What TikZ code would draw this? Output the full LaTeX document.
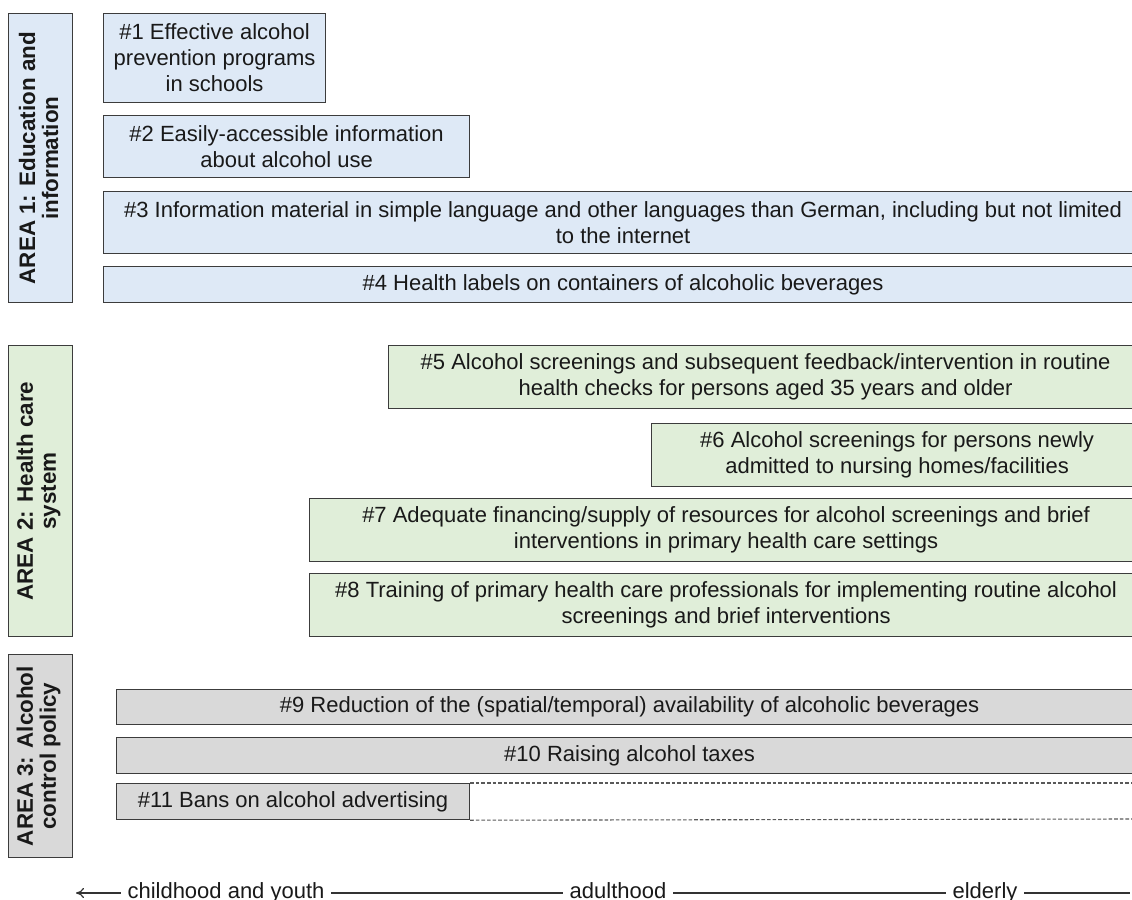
\documentclass[tikz,border=0pt]{standalone}
\usepackage{fontspec}
\setmainfont{Liberation Sans}
\usetikzlibrary{arrows.meta}
\definecolor{edu}{RGB}{222,233,246}
\definecolor{care}{RGB}{224,238,217}
\definecolor{policy}{RGB}{217,217,217}
\definecolor{rim}{RGB}{60,60,60}
\definecolor{ink}{RGB}{25,25,25}
\tikzset{
  item/.style     = {draw=rim, line width=0.6pt, inner sep=0pt, align=center,
                     anchor=north west, text=ink, font=\fontsize{11}{13}\selectfont},
  itemedu/.style  = {item, fill=edu},
  itemcare/.style = {item, fill=care},
  itempol/.style  = {item, fill=policy},
  % area labels run bottom to top
  arealbl/.style  = {rotate=90, align=center, text=ink,
                     font=\fontsize{11.2}{11.6}\selectfont\bfseries},
  open/.style     = {draw=black!65, line width=0.55pt, dash pattern=on 1.8pt off 1pt},
  axis/.style     = {draw=black!80, line width=0.6pt},
  axlbl/.style    = {text=ink, font=\fontsize{11}{13}\selectfont, inner xsep=3.3pt,
                     anchor=mid},
}

\begin{document}
\begin{tikzpicture}[x=0.5pt, y=-0.5pt]
  \useasboundingbox (0,0) rectangle (1132,900);

  % areas
  \node[itemedu,  minimum width=32pt, minimum height=144.5pt] (a1) at (8,13)  {};
  \node[itemcare, minimum width=32pt, minimum height=145.5pt] (a2) at (8,345) {};
  \node[itempol,  minimum width=32pt, minimum height=101.5pt] (a3) at (8,654) {};
  \node[arealbl] (l1) at ([xshift=-1pt]a1.center) {AREA 1: Education and\\information};
  \node[arealbl] (l2) at ([xshift=-1pt]a2.center) {AREA 2: Health care\\system};
  \node[arealbl] (l3) at ([xshift=-1pt]a3.center) {AREA 3: Alcohol\\control policy};

  % area 1
  \node[itemedu, minimum width=111pt, minimum height=44.5pt] (m1) at (103,13)
       {\#1 Effective alcohol\\prevention programs\\in schools};
  \node[itemedu, minimum width=183pt, minimum height=31pt] (m2) at (103,115)
       {\#2 Easily-accessible information\\about alcohol use};
  \node[itemedu, minimum width=519.5pt, minimum height=31pt] (m3) at (103,191)
       {\#3 Information material in simple language and other languages than German, including but not limited\\to the internet};
  \node[itemedu, minimum width=519.5pt, minimum height=18pt] (m4) at (103,266)
       {\#4 Health labels on containers of alcoholic beverages};

  % area 2
  \node[itemcare, minimum width=377pt, minimum height=31.5pt] (m5) at (388,345)
       {\#5 Alcohol screenings and subsequent feedback/intervention in routine\\health checks for persons aged 35 years and older};
  \node[itemcare, minimum width=245.5pt, minimum height=31.5pt] (m6) at (651,423)
       {\#6 Alcohol screenings for persons newly\\admitted to nursing homes/facilities};
  \node[itemcare, minimum width=416.5pt, minimum height=31.5pt] (m7) at (309,498)
       {\#7 Adequate financing/supply of resources for alcohol screenings and brief\\interventions in primary health care settings};
  \node[itemcare, minimum width=416.5pt, minimum height=31.5pt] (m8) at (309,573)
       {\#8 Training of primary health care professionals for implementing routine alcohol\\screenings and brief interventions};

  % area 3
  \node[itempol, minimum width=513pt, minimum height=17.5pt] (m9) at (116,689)
       {\#9 Reduction of the (spatial/temporal) availability of alcoholic beverages};
  \node[itempol, minimum width=513pt, minimum height=18pt] (m10) at (116,737)
       {\#10 Raising alcohol taxes};
  \node[itempol, minimum width=176.5pt, minimum height=18pt] (m11) at (116,783)
       {\#11 Bans on alcohol advertising};
  \coordinate (e11a) at (1132,783);
  \coordinate (e11b) at (1132,819);
  \draw[open] (m11.north east) -- (e11a);
  \draw[open] (m11.south east) -- (e11b);

  % life course axis
  \node[axlbl] (ax1) at (226,893) {childhood and youth};
  \node[axlbl] (ax2) at (618,893) {adulthood};
  \node[axlbl] (ax3) at (985,893) {elderly};
  \coordinate (young) at (76,893);
  \coordinate (old)   at (1130,893);
  \draw[axis, -{To[length=4pt, width=5pt]}] (ax1.mid west) -- (young);
  \draw[axis] (ax1.mid east) -- (ax2.mid west);
  \draw[axis] (ax2.mid east) -- (ax3.mid west);
  \draw[axis] (ax3.mid east) -- (old);
\end{tikzpicture}
\end{document}
